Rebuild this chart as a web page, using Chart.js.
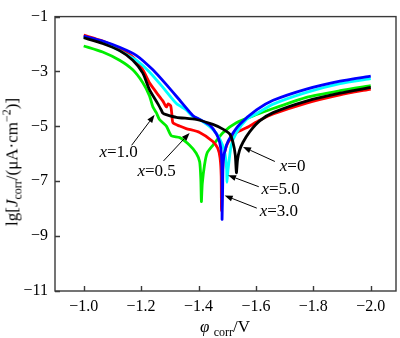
<!DOCTYPE html>
<html lang="zh">
<head>
  <meta charset="UTF-8">
  <title>极化曲线</title>
  <script src="https://cdn.jsdelivr.net/npm/chart.js"></script>
  <style>
    html, body { margin: 0; padding: 0; background: #fff; }
    #wrap { position: relative; width: 400px; height: 338px; }
    .axis-title { position: absolute; font-family: "Liberation Serif", "DejaVu Serif", serif; font-size: 17px; color: #000; white-space: nowrap; line-height: 1; }
    .axis-title sub, .axis-title sup { font-size: 12px; }
    #xTitle { left: 225px; top: 318px; transform: translateX(-50%); }
    #yTitle { left: 12px; top: 162px; transform: translate(-50%, -50%) rotate(-90deg); }
  </style>
</head>
<body>
  <div id="wrap">
    <canvas id="chart" width="400" height="338"></canvas>
    <div id="xTitle" class="axis-title"><i>φ</i> <sub>corr</sub>/V</div>
    <div id="yTitle" class="axis-title">lg[<i>J</i><sub>corr</sub>/(μA·cm<sup>−2</sup>)]</div>
  </div>

  <script>
    // potential (V) and lg J for each sample
    const blackE = [-1.000, -1.066, -1.125, -1.171, -1.206, -1.229, -1.258, -1.270, -1.276, -1.290, -1.323, -1.392, -1.450, -1.485, -1.509, -1.520, -1.528, -1.532, -1.536, -1.543, -1.555, -1.578, -1.613, -1.660, -1.776, -1.893, -2.000];
    const blackJ = [-1.77, -1.98, -2.24, -2.59, -3.06, -3.66, -4.17, -4.40, -4.52, -4.58, -4.67, -4.75, -4.93, -5.10, -5.28, -5.58, -6.04, -6.69, -6.21, -5.87, -5.58, -5.20, -4.80, -4.50, -4.08, -3.79, -3.58];

    const redE = [-1.000, -1.066, -1.125, -1.171, -1.206, -1.229, -1.253, -1.276, -1.288, -1.294, -1.303, -1.307, -1.311, -1.334, -1.357, -1.404, -1.450, -1.467, -1.475, -1.479, -1.480, -1.483, -1.488, -1.503, -1.532, -1.567, -1.613, -1.660, -1.776, -1.893, -2.000];
    const redJ = [-1.675, -1.89, -2.18, -2.47, -2.94, -3.41, -3.76, -4.08, -4.29, -4.18, -4.25, -4.55, -4.87, -4.99, -5.08, -5.22, -5.55, -5.80, -6.15, -6.80, -8.08, -6.80, -6.10, -5.58, -5.23, -5.05, -4.78, -4.55, -4.15, -3.85, -3.64];

    const greenE = [-1.000, -1.066, -1.125, -1.171, -1.206, -1.229, -1.241, -1.253, -1.264, -1.288, -1.305, -1.334, -1.369, -1.392, -1.404, -1.408, -1.410, -1.413, -1.421, -1.430, -1.450, -1.485, -1.532, -1.602, -1.660, -1.776, -1.893, -2.000];
    const greenJ = [-2.07, -2.29, -2.59, -2.94, -3.41, -3.88, -4.29, -4.50, -4.75, -4.99, -5.34, -5.41, -5.69, -5.98, -6.29, -6.92, -7.74, -7.10, -6.40, -5.97, -5.69, -5.23, -4.87, -4.57, -4.35, -3.94, -3.70, -3.52];

    const blueE = [-1.000, -1.066, -1.125, -1.183, -1.241, -1.288, -1.334, -1.380, -1.404, -1.439, -1.462, -1.474, -1.480, -1.482, -1.482, -1.484, -1.486, -1.497, -1.514, -1.543, -1.602, -1.660, -1.776, -1.893, -2.000];
    const blueJ = [-1.71, -1.89, -2.12, -2.41, -2.94, -3.48, -4.04, -4.60, -4.75, -4.95, -5.27, -5.59, -6.04, -7.00, -8.39, -7.30, -6.28, -5.69, -5.34, -4.93, -4.40, -4.05, -3.64, -3.35, -3.17];

    const cyanE = [-1.000, -1.066, -1.125, -1.183, -1.229, -1.276, -1.323, -1.357, -1.380, -1.404, -1.450, -1.474, -1.491, -1.498, -1.499, -1.503, -1.514, -1.532, -1.567, -1.602, -1.660, -1.776, -1.893, -2.000];
    const cyanJ = [-1.73, -1.94, -2.24, -2.59, -3.02, -3.58, -4.17, -4.40, -4.64, -4.75, -5.11, -5.46, -5.93, -6.57, -7.04, -6.57, -5.69, -5.23, -4.75, -4.54, -4.19, -3.76, -3.44, -3.26];

    // labels: text, text anchor (E, lgJ), arrow tail and head
    const notes = [
      { text: '1.0', at: [-1.055, -6.11], from: [-1.167, -5.69], to: [-1.247, -4.58] },
      { text: '0.5', at: [-1.187, -6.82], from: [-1.278, -6.26], to: [-1.369, -5.24] },
      { text: '0',   at: [-1.683, -6.62], from: [-1.666, -6.28], to: [-1.555, -5.75] },
      { text: '5.0', at: [-1.619, -7.47], from: [-1.610, -7.20], to: [-1.503, -6.78] },
      { text: '3.0', at: [-1.613, -8.26], from: [-1.603, -7.98], to: [-1.491, -7.52] }
    ];

    const pts = (e, j) => e.map((v, i) => ({ x: v, y: j[i] }));
    const minus = v => (v < 0 ? '\u2212' : '');
    const serif = 'Liberation Serif';
    Chart.defaults.font.family = serif;

    const frameAndNotes = {
      id: 'frameAndNotes',
      afterDraw(chart) {
        const { ctx, chartArea: a, scales: { x, y } } = chart;
        ctx.save();
        ctx.strokeStyle = '#3a3a3a';
        ctx.lineWidth = 1.4;
        ctx.strokeRect(a.left, a.top, a.right - a.left, a.bottom - a.top);
        ctx.beginPath();
        x.ticks.forEach(t => {
          const px = Math.round(x.getPixelForValue(t.value)) + 0.5;
          ctx.moveTo(px, a.bottom);
          ctx.lineTo(px, a.bottom - 5);
        });
        y.ticks.forEach(t => {
          const py = Math.round(y.getPixelForValue(t.value)) + 0.5;
          ctx.moveTo(a.left, py);
          ctx.lineTo(a.left + 5, py);
        });
        ctx.stroke();

        ctx.fillStyle = '#000';
        ctx.strokeStyle = '#000';
        ctx.lineWidth = 1;
        notes.forEach(n => {
          const x0 = x.getPixelForValue(n.from[0]), y0 = y.getPixelForValue(n.from[1]);
          const x1 = x.getPixelForValue(n.to[0]), y1 = y.getPixelForValue(n.to[1]);
          const ang = Math.atan2(y1 - y0, x1 - x0);
          const hl = 8, hw = 3;
          ctx.beginPath();
          ctx.moveTo(x0, y0);
          ctx.lineTo(x1 - hl * Math.cos(ang), y1 - hl * Math.sin(ang));
          ctx.stroke();
          ctx.beginPath();
          ctx.moveTo(x1, y1);
          ctx.lineTo(x1 - hl * Math.cos(ang) + hw * Math.sin(ang), y1 - hl * Math.sin(ang) - hw * Math.cos(ang));
          ctx.lineTo(x1 - hl * Math.cos(ang) - hw * Math.sin(ang), y1 - hl * Math.sin(ang) + hw * Math.cos(ang));
          ctx.closePath();
          ctx.fill();

          const tx = x.getPixelForValue(n.at[0]), ty = y.getPixelForValue(n.at[1]);
          ctx.textBaseline = 'alphabetic';
          ctx.textAlign = 'left';
          ctx.font = 'italic 17px "' + serif + '"';
          ctx.fillText('x', tx, ty);
          const w = ctx.measureText('x').width;
          ctx.font = '17px "' + serif + '"';
          ctx.fillText('=' + n.text, tx + w, ty);
        });
        ctx.restore();
      }
    };

    const line = (label, color, e, j) => ({
      label: label,
      data: pts(e, j),
      borderColor: color,
      borderWidth: 2.8,
      pointRadius: 0,
      tension: 0.2,
      fill: false
    });

    new Chart(document.getElementById('chart').getContext('2d'), {
      type: 'line',
      data: {
        datasets: [
          line('x=0', '#000000', blackE, blackJ),
          line('x=3.0', '#0000ff', blueE, blueJ),
          line('x=5.0', '#00ffff', cyanE, cyanJ),
          line('x=0.5', '#ff0000', redE, redJ),
          line('x=1.0', '#00ee00', greenE, greenJ)
        ]
      },
      options: {
        responsive: false,
        animation: false,
        layout: { padding: { top: 6, right: 4, left: 0, bottom: 0 } },
        plugins: {
          legend: { display: false },
          tooltip: { enabled: false }
        },
        scales: {
          x: {
            type: 'linear',
            reverse: true,
            min: -2.088,
            max: -0.9,
            grid: { display: false, drawTicks: false },
            border: { display: false },
            afterFit(s) { s.height = 47; },
            ticks: {
              stepSize: 0.2,
              includeBounds: false,
              padding: 6,
              color: '#000',
              font: { family: serif, size: 16 },
              callback: v => minus(v) + Math.abs(v).toFixed(1)
            }
          },
          y: {
            min: -11,
            max: -1,
            grid: { display: false, drawTicks: false },
            border: { display: false },
            afterFit(s) { s.width = 55; },
            ticks: {
              stepSize: 2,
              padding: 7,
              color: '#000',
              font: { family: serif, size: 16 },
              callback: v => minus(v) + Math.abs(v)
            }
          }
        }
      },
      plugins: [frameAndNotes]
    });
  </script>
</body>
</html>
